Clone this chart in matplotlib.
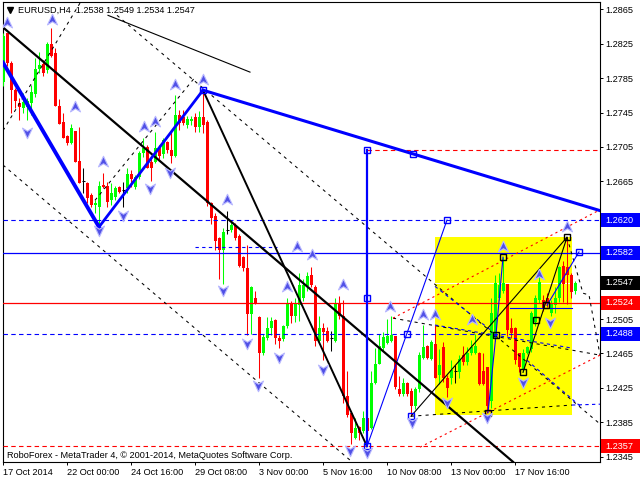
import matplotlib
matplotlib.use("Agg")
import matplotlib.pyplot as plt
from matplotlib.path import Path
from matplotlib.patches import Rectangle
from matplotlib.transforms import blended_transform_factory

plt.rcParams['font.family'] = ['Liberation Sans', 'DejaVu Sans']
FS = 6.6

# EURUSD H4 candles (bar index 0 = 17 Oct 2014)
opens = [1.2781, 1.2837, 1.2803, 1.2771, 1.2756, 1.2750, 1.2751, 1.2756, 1.2767, 1.2796,
         1.2802, 1.2794, 1.2825, 1.2814, 1.2753, 1.2734, 1.2718, 1.2710, 1.2724, 1.2689,
         1.2665, 1.2663, 1.2649, 1.2638, 1.2635, 1.2661, 1.2660, 1.2643, 1.2647, 1.2658,
         1.2655, 1.2657, 1.2674, 1.2658, 1.2670, 1.2698, 1.2705, 1.2687, 1.2687, 1.2705,
         1.2697, 1.2711, 1.2701, 1.2695, 1.2742, 1.2740, 1.2730, 1.2735, 1.2740, 1.2728,
         1.2740, 1.2734, 1.2640, 1.2625, 1.2599, 1.2585, 1.2608, 1.2608, 1.2614, 1.2602,
         1.2577, 1.2564, 1.2511, 1.2530, 1.2507, 1.2465, 1.2483, 1.2494, 1.2504, 1.2483,
         1.2482, 1.2497, 1.2524, 1.2509, 1.2521, 1.2530, 1.2543, 1.2556, 1.2542, 1.2480,
         1.2495, 1.2491, 1.2483, 1.2480, 1.2523, 1.2509, 1.2416, 1.2396, 1.2367, 1.2379,
         1.2375, 1.2390, 1.2378, 1.2431, 1.2453, 1.2471, 1.2477, 1.2480, 1.2485, 1.2424,
         1.2418, 1.2431, 1.2421, 1.2404, 1.2424, 1.2460, 1.2474, 1.2459, 1.2476, 1.2440,
         1.2472, 1.2437, 1.2437, 1.2445, 1.2443, 1.2463, 1.2455, 1.2465, 1.2466, 1.2465,
         1.2445, 1.2449, 1.2410, 1.2483, 1.2530, 1.2538, 1.2546, 1.2495, 1.2494, 1.2465,
         1.2447, 1.2466, 1.2470, 1.2501, 1.2527, 1.2527, 1.2530, 1.2512, 1.2521, 1.2530,
         1.2567, 1.2565, 1.2556, 1.2538]
highs = [1.2838, 1.2838, 1.2805, 1.2773, 1.2762, 1.2768, 1.2762, 1.2777, 1.2808, 1.2815,
         1.2806, 1.2827, 1.2843, 1.2820, 1.2761, 1.2744, 1.2719, 1.2732, 1.2724, 1.2728,
         1.2680, 1.2664, 1.2651, 1.2643, 1.2666, 1.2675, 1.2664, 1.2663, 1.2660, 1.2660,
         1.2664, 1.2680, 1.2678, 1.2672, 1.2700, 1.2715, 1.2707, 1.2695, 1.2722, 1.2707,
         1.2715, 1.2712, 1.2724, 1.2765, 1.2748, 1.2748, 1.2741, 1.2741, 1.2745, 1.2747,
         1.2771, 1.2736, 1.2641, 1.2628, 1.2600, 1.2611, 1.2631, 1.2618, 1.2617, 1.2604,
         1.2578, 1.2591, 1.2543, 1.2537, 1.2509, 1.2488, 1.2507, 1.2507, 1.2505, 1.2486,
         1.2498, 1.2529, 1.2526, 1.2530, 1.2558, 1.2552, 1.2560, 1.2565, 1.2544, 1.2509,
         1.2500, 1.2496, 1.2491, 1.2530, 1.2532, 1.2527, 1.2445, 1.2398, 1.2390, 1.2381,
         1.2398, 1.2398, 1.2445, 1.2471, 1.2488, 1.2490, 1.2505, 1.2509, 1.2485, 1.2439,
         1.2436, 1.2432, 1.2425, 1.2426, 1.2467, 1.2498, 1.2475, 1.2481, 1.2498, 1.2470,
         1.2478, 1.2440, 1.2457, 1.2451, 1.2463, 1.2474, 1.2472, 1.2481, 1.2488, 1.2467,
         1.2466, 1.2449, 1.2530, 1.2556, 1.2558, 1.2577, 1.2546, 1.2506, 1.2496, 1.2466,
         1.2470, 1.2474, 1.2514, 1.2533, 1.2559, 1.2533, 1.2535, 1.2527, 1.2542, 1.2567,
         1.2572, 1.2600, 1.2558, 1.2549]
lows = [1.2776, 1.2799, 1.2744, 1.2750, 1.2736, 1.2744, 1.2736, 1.2742, 1.2763, 1.2791,
        1.2788, 1.2791, 1.2809, 1.2753, 1.2732, 1.2715, 1.2707, 1.2709, 1.2687, 1.2663,
        1.2651, 1.2640, 1.2635, 1.2628, 1.2612, 1.2657, 1.2635, 1.2637, 1.2643, 1.2651,
        1.2635, 1.2651, 1.2658, 1.2656, 1.2668, 1.2693, 1.2681, 1.2666, 1.2686, 1.2691,
        1.2692, 1.2698, 1.2686, 1.2693, 1.2725, 1.2730, 1.2727, 1.2730, 1.2722, 1.2722,
        1.2721, 1.2636, 1.2616, 1.2585, 1.2552, 1.2546, 1.2604, 1.2606, 1.2597, 1.2565,
        1.2561, 1.2486, 1.2488, 1.2522, 1.2436, 1.2463, 1.2481, 1.2486, 1.2476, 1.2471,
        1.2480, 1.2495, 1.2500, 1.2502, 1.2503, 1.2526, 1.2538, 1.2542, 1.2474, 1.2477,
        1.2457, 1.2478, 1.2468, 1.2478, 1.2505, 1.2407, 1.2391, 1.2360, 1.2366, 1.2364,
        1.2373, 1.2357, 1.2377, 1.2429, 1.2453, 1.2468, 1.2476, 1.2478, 1.2424, 1.2416,
        1.2416, 1.2415, 1.2392, 1.2400, 1.2420, 1.2459, 1.2459, 1.2457, 1.2436, 1.2430,
        1.2432, 1.2414, 1.2430, 1.2431, 1.2437, 1.2452, 1.2452, 1.2463, 1.2464, 1.2428,
        1.2428, 1.2396, 1.2402, 1.2480, 1.2527, 1.2535, 1.2485, 1.2483, 1.2453, 1.2443,
        1.2443, 1.2464, 1.2467, 1.2497, 1.2524, 1.2514, 1.2519, 1.2508, 1.2512, 1.2525,
        1.2525, 1.2523, 1.2529, 1.2534]
closes = [1.2834, 1.2803, 1.2771, 1.2759, 1.2751, 1.2757, 1.2759, 1.2769, 1.2796, 1.2800,
          1.2791, 1.2825, 1.2811, 1.2753, 1.2732, 1.2715, 1.2710, 1.2727, 1.2687, 1.2663,
          1.2665, 1.2646, 1.2637, 1.2640, 1.2660, 1.2658, 1.2641, 1.2652, 1.2657, 1.2653,
          1.2655, 1.2674, 1.2668, 1.2670, 1.2698, 1.2704, 1.2681, 1.2681, 1.2704, 1.2695,
          1.2713, 1.2701, 1.2695, 1.2742, 1.2733, 1.2733, 1.2738, 1.2737, 1.2728, 1.2740,
          1.2731, 1.2640, 1.2622, 1.2596, 1.2585, 1.2606, 1.2608, 1.2614, 1.2599, 1.2567,
          1.2564, 1.2511, 1.2542, 1.2523, 1.2465, 1.2484, 1.2495, 1.2503, 1.2483, 1.2480,
          1.2497, 1.2523, 1.2509, 1.2523, 1.2544, 1.2545, 1.2555, 1.2544, 1.2480, 1.2494,
          1.2490, 1.2480, 1.2483, 1.2523, 1.2509, 1.2416, 1.2393, 1.2373, 1.2378, 1.2372,
          1.2390, 1.2375, 1.2431, 1.2453, 1.2474, 1.2484, 1.2485, 1.2486, 1.2426, 1.2418,
          1.2431, 1.2418, 1.2404, 1.2424, 1.2463, 1.2472, 1.2460, 1.2478, 1.2437, 1.2452,
          1.2437, 1.2425, 1.2446, 1.2445, 1.2459, 1.2455, 1.2465, 1.2473, 1.2474, 1.2430,
          1.2430, 1.2404, 1.2512, 1.2547, 1.2544, 1.2547, 1.2492, 1.2489, 1.2457, 1.2449,
          1.2466, 1.2472, 1.2512, 1.2529, 1.2548, 1.2518, 1.2523, 1.2524, 1.2530, 1.2565,
          1.2546, 1.2556, 1.2536, 1.2547]

tick_bars = [0, 16, 32, 48, 64, 80, 96, 112, 128]
tick_labels = ["17 Oct 2014", "22 Oct 00:00", "24 Oct 16:00", "29 Oct 08:00", "3 Nov 00:00",
               "5 Nov 16:00", "10 Nov 08:00", "13 Nov 00:00", "17 Nov 16:00"]
price_ticks = [1.2345, 1.2385, 1.2425, 1.2465, 1.2505, 1.2545, 1.2585, 1.2625,
               1.2665, 1.2705, 1.2745, 1.2785, 1.2825, 1.2865]
# tick labels covered by the price tags
hidden_ticks = [1.2545, 1.2585, 1.2625]

# horizontal levels
blue_dash_levels = [1.2620, 1.2488]
blue_solid_levels = [1.2582]
red_solid_levels = [1.2524]
red_dash_levels = [1.2357]
bid = 1.2547
price_tags = [("1.2620", 1.2620, "#0000ff"), ("1.2582", 1.2582, "#0000ff"),
              ("1.2547", 1.2547, "#000000"), ("1.2524", 1.2524, "#ff0000"),
              ("1.2488", 1.2488, "#0000ff"), ("1.2357", 1.2357, "#ff0000")]

# drawn objects, bar index / price
wave_x, wave_y = [0, 24, 50], [1.2803, 1.2612, 1.2771]
fan_x, fan_y = [50, 149.25], [1.2771, 1.2631]
trend_x, trend_y = [0, 127.5], [1.2844, 1.2339]
steep_x, steep_y = [50, 91], [1.2771, 1.2357]
target_x, target_y = [91, 91], [1.2701, 1.2357]
target_level_x, target_level_y = [91, 149.25], [1.2701, 1.2701]
box_x, box_y = [108, 142.25], [1.2393, 1.2600]

thin_black = [([26.25, 61.75], [1.2858, 1.2792]),
              ([102, 141], [1.2392, 1.2600]),
              ([130, 141], [1.2443, 1.2600])]
thin_blue = [([91, 111], [1.2357, 1.2620]),
             ([121.25, 123.25, 125], [1.2396, 1.2487, 1.2577]),
             ([126.75, 142.25], [1.2518, 1.2518]),
             ([136, 144], [1.2521, 1.2583])]
dash_black = [([0, 20], [1.2724, 1.2878]),
              ([23, 48], [1.2643, 1.2786]),
              ([28.5, 149.25], [1.2858, 1.2383]),
              ([0, 86.75], [1.2684, 1.2341]),
              ([97.5, 149.25], [1.2506, 1.2463]),
              ([102, 142.25], [1.2392, 1.2405]),
              ([141, 145, 146.5, 149.25], [1.2600, 1.2535, 1.2533, 1.2463])]
dash_red = [([104.25, 149.25], [1.2356, 1.2463]),
            ([97.5, 149.25], [1.2506, 1.2632])]
dash_blue = [([48, 68.5], [1.2589, 1.2589]),
             ([108, 122.5], [1.2543, 1.2490]),
             ([108, 142.5], [1.2498, 1.2471]),
             ([131, 144.25], [1.2457, 1.2404]),
             ([142.25, 149.25], [1.2405, 1.2406])]

blue_sq_x = [50, 91, 91, 91, 102.5, 111, 101, 102, 144]
blue_sq_y = [1.2771, 1.2701, 1.2530, 1.2357, 1.2697, 1.2620, 1.2488, 1.2392, 1.2583]
black_sq_x = [121.25, 125, 123.25, 130, 133.25, 141, 135.75]
black_sq_y = [1.2396, 1.2577, 1.2487, 1.2443, 1.2504, 1.2600, 1.2521]

up_x = [1, 12.25, 18, 25, 35.25, 38, 43, 50, 56, 73.5, 77.25, 71, 85, 96.75, 105, 108,
        117.25, 125, 134, 141]
up_y = [1.2849, 1.2853, 1.2751, 1.2688, 1.2728, 1.2734, 1.2777, 1.2783, 1.2643, 1.2589,
        1.2579, 1.2542, 1.2545, 1.2519, 1.2510, 1.2510, 1.2504, 1.2589, 1.2556, 1.2612]
down_x = [6, 24, 30, 36.75, 41.75, 55, 61, 63.75, 69, 80, 86.75, 91, 102.25, 111, 121,
          130, 136.75]
down_y = [1.2722, 1.2609, 1.2626, 1.2657, 1.2676, 1.2539, 1.2477, 1.2428, 1.2461, 1.2447,
          1.2353, 1.2350, 1.2385, 1.2409, 1.2391, 1.2432, 1.2502]

fig = plt.figure(figsize=(6.4, 4.8), dpi=100)
ax = fig.add_axes([3 / 640, 18 / 480, 597 / 640, 460 / 480])
ax.set_xlim(0, 149.25)
ax.set_ylim(1.23388, 1.28735)

# yellow box
ax.fill_between(box_x, box_y[0], box_y[1], color="#ffff00", lw=0, zorder=1)
ax.axhline(bid, color="white", lw=0.8, zorder=1.5)

# candles
for i, (o, h, l, c) in enumerate(zip(opens, highs, lows, closes)):
    col = "#00ff00" if c > o else ("#ff0000" if c < o else "black")
    ax.vlines(i, l, h, color=col, lw=0.75, zorder=3)
    if c == o:
        ax.hlines(c, i - 0.375, i + 0.375, color=col, lw=0.75, zorder=3)
    else:
        ax.bar(i, abs(c - o), bottom=min(o, c), width=0.75, color=col, lw=0, zorder=3)

# horizontal lines
for lv in blue_dash_levels:
    ax.axhline(lv, color="#0000ff", lw=0.8, ls=(0, (4, 3)), zorder=4)
for lv in blue_solid_levels:
    ax.axhline(lv, color="#0000ff", lw=0.9, zorder=4)
for lv in red_solid_levels:
    ax.axhline(lv, color="#ff0000", lw=0.9, zorder=4)
for lv in red_dash_levels:
    ax.axhline(lv, color="#ff0000", lw=0.8, ls=(0, (4, 3)), zorder=4)
ax.plot(target_level_x, target_level_y, color="#ff0000", lw=0.8, ls=(0, (4, 3)), zorder=4)

# dashed channels
for xs, ys in dash_black:
    ax.plot(xs, ys, color="black", lw=0.75, ls=(0, (3, 4)), zorder=4)
for xs, ys in dash_red:
    ax.plot(xs, ys, color="#ff0000", lw=0.8, ls=(0, (2, 3)), zorder=4)
for xs, ys in dash_blue:
    ax.plot(xs, ys, color="#0000ff", lw=0.8, ls=(0, (3, 3)), zorder=4)

# solid lines
for xs, ys in thin_black:
    ax.plot(xs, ys, color="black", lw=0.8, zorder=5)
for xs, ys in thin_blue:
    ax.plot(xs, ys, color="#0000ff", lw=0.8, zorder=5)
ax.plot(trend_x, trend_y, color="black", lw=1.6, zorder=5)
ax.plot(steep_x, steep_y, color="black", lw=1.4, zorder=5)
ax.plot(wave_x[:2], wave_y[:2], color="#0000ff", lw=2.8, zorder=5)
ax.plot(wave_x[1:], wave_y[1:], color="#0000ff", lw=2.0, zorder=5)
ax.plot(fan_x, fan_y, color="#0000ff", lw=2.2, zorder=5)
ax.plot(target_x, target_y, color="#0000ff", lw=1.6, zorder=5)

# anchor squares
ax.plot(blue_sq_x, blue_sq_y, ls="none", marker="s", ms=4.2, mfc="none", mec="#0000ff", mew=1.0, zorder=6)
ax.plot(black_sq_x, black_sq_y, ls="none", marker="s", ms=4.2, mfc="none", mec="black", mew=1.0, zorder=6)

# fractal arrows
up_arrow = Path([(0, 1), (0.8, -0.7), (0, -0.2), (-0.8, -0.7), (0, 1)],
                [Path.MOVETO, Path.LINETO, Path.LINETO, Path.LINETO, Path.CLOSEPOLY])
down_arrow = Path([(0, -1), (0.8, 0.7), (0, 0.2), (-0.8, 0.7), (0, -1)],
                  [Path.MOVETO, Path.LINETO, Path.LINETO, Path.LINETO, Path.CLOSEPOLY])
ax.plot(up_x, up_y, ls="none", marker=up_arrow, ms=9, mfc="#5050e6", mec="#b8b8ff", mew=0.8, zorder=6)
ax.plot(down_x, down_y, ls="none", marker=down_arrow, ms=9, mfc="#5050e6", mec="#b8b8ff", mew=0.8, zorder=6)

# axes
ax.set_xticks(tick_bars)
ax.set_xticklabels(tick_labels, ha="left")
ax.yaxis.tick_right()
ax.set_yticks(price_ticks)
ax.set_yticklabels(["" if p in hidden_ticks else f"{p:.4f}" for p in price_ticks])
ax.tick_params(axis="both", direction="out", length=2.5, width=0.7, labelsize=FS, pad=1.5)
for s in ax.spines.values():
    s.set_linewidth(0.8)

# price tags on the right scale
tr = blended_transform_factory(ax.transAxes, ax.transData)
tag_h = 14 / 8604
for txt, lv, col in price_tags:
    ax.add_patch(Rectangle((1.0017, lv - tag_h / 2), 39 / 597, tag_h, transform=tr,
                           fc=col, ec="none", clip_on=False, zorder=9))
    ax.text(1.0085, lv, txt, transform=tr, color="white", fontsize=FS, va="center", ha="left",
            zorder=10)

fig.text(18 / 640, 1 - 10 / 480, "EURUSD,H4  1.2538 1.2549 1.2534 1.2547", fontsize=FS, va="center")
ax.plot([10 / 640], [1 - 10 / 480], marker="v", color="black", ms=4, transform=fig.transFigure, clip_on=False)
fig.text(7 / 640, 1 - 455 / 480, "RoboForex - MetaTrader 4, \u00a9 2001-2014, MetaQuotes Software Corp.",
         fontsize=FS, va="center")

fig.savefig("out.png", dpi=100)
